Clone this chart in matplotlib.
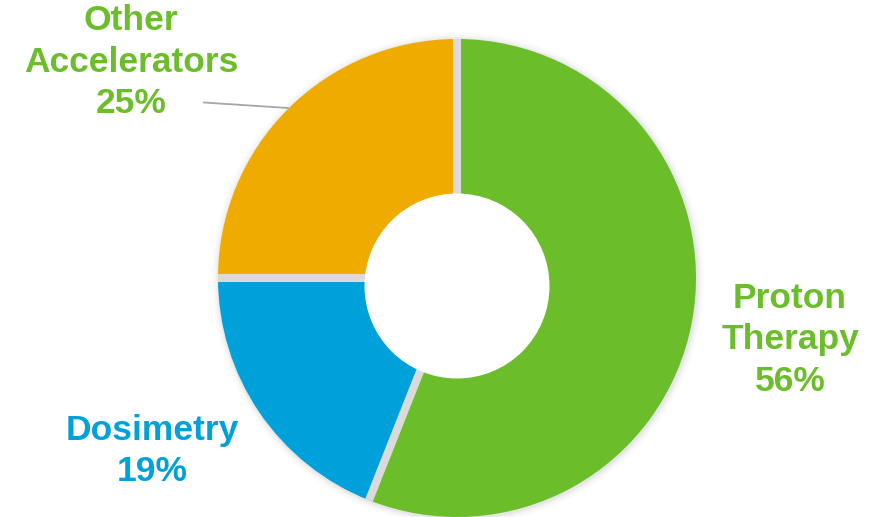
import numpy as np
import matplotlib
matplotlib.use('Agg')
import matplotlib.pyplot as plt
from matplotlib.patches import Circle

plt.rcParams['font.family'] = ['Liberation Sans', 'DejaVu Sans']

# data
segments = ['Proton\nTherapy', 'Dosimetry', 'Other\nAccelerators']
shares = [56, 19, 25]
colors = ['#6bbe2a', '#00a1da', '#f0ab00']
text_colors = ['#6bbe2a', '#00a1da', '#6bbe2a']

W, H = 884, 517
fig = plt.figure(figsize=(W / 100, H / 100), dpi=100)
ax = fig.add_axes([0, 0, 1, 1])
ax.set_xlim(0, W)
ax.set_ylim(0, H)
ax.set_aspect('equal')
ax.axis('off')

cx, cy = 457, H - 278
R = 239

# soft shadow round the pie
for k, a in [(7, 0.03), (5, 0.04), (3, 0.06), (1.5, 0.08)]:
    ax.add_patch(Circle((cx + 1, cy - 1), R + k, color='#808080', alpha=a, lw=0, zorder=1))

wedges, _ = ax.pie(shares, colors=colors, startangle=90, counterclock=False,
                   radius=R, center=(cx, cy), frame=True,
                   wedgeprops=dict(edgecolor='none', linewidth=0))
for w in wedges:
    w.set_zorder(2)
ax.set_xlim(0, W)
ax.set_ylim(0, H)
ax.axis('off')

# separators between slices
cum = np.cumsum([0] + shares)
for c in cum[:-1]:
    ang = np.deg2rad(90 - 360 * c / sum(shares))
    ax.plot([cx, cx + (R + 0.5) * np.cos(ang)], [cy, cy + (R + 0.5) * np.sin(ang)],
            color='#dadada', lw=5.8, solid_capstyle='butt', zorder=3)

# hole
ax.add_patch(Circle((cx, H - 286), 92.5, color='white', lw=0, zorder=4))

# labels
pos = [(790, 340), (152, 451), (131, 62)]
for name, s, (x, y), tc in zip(segments, shares, pos, text_colors):
    ax.text(x, H - y, f'{name}\n{s}%', ha='center', va='center', fontsize=25.5,
            fontweight='bold', color=tc, linespacing=1.32, zorder=5)

# leader line for Other Accelerators
ax.plot([204, 288], [H - 102.5, H - 108], color='#a6a6a6', lw=1.3, zorder=5)

fig.savefig('out.png', dpi=100, facecolor='white')
